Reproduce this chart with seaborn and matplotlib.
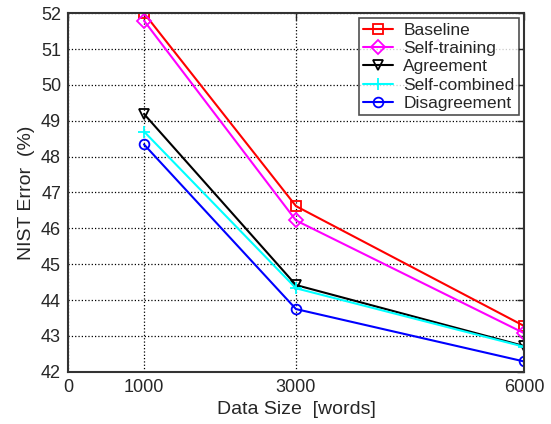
import numpy as np
import pandas as pd
import matplotlib
matplotlib.use('Agg')
import matplotlib.pyplot as plt
import seaborn as sns

sizes = [1000, 3000, 6000]
methods = ['Baseline', 'Self-training', 'Agreement', 'Self-combined', 'Disagreement']
baseline = [52.0, 46.62, 43.28]
self_training = [51.79, 46.22, 43.08]
agreement = [49.19, 44.42, 42.72]
self_combined = [48.70, 44.33, 42.70]
disagreement = [48.34, 43.75, 42.29]

colors = ['#ff0000', '#ff00ff', '#000000', '#00ffff', '#0000ff']
marker_list = ['s', 'D', 'v', '+', 'o']

sns.set_style('white')
plt.rcParams['font.family'] = ['Liberation Sans', 'DejaVu Sans']

fig = plt.figure(figsize=(5.51, 4.24), dpi=100)
ax = fig.add_axes([0.1234, 0.123, 0.8276, 0.846])

# one call per series, since seaborn won't mix filled and line-art markers
for name, vals, c, m in zip(methods,
                            [baseline, self_training, agreement, self_combined, disagreement],
                            colors, marker_list):
    sns.lineplot(x=sizes, y=vals, color=c, marker=m, label=name,
                 markersize=8 if m == '+' else 7, markerfacecolor='none',
                 markeredgecolor=c, markeredgewidth=1.3,
                 linewidth=1.5, ax=ax)

ax.set_xlim(0, 6000)
ax.set_ylim(42, 52)
ax.set_xticks([0, 1000, 3000, 6000])
ax.set_yticks(range(42, 53))
ax.tick_params(direction='in', length=5, labelsize=13, top=True, right=True,
               width=1, pad=5)
ax.grid(True, linestyle=':', color='black', linewidth=0.9)
for sp in ax.spines.values():
    sp.set_color('#333333')
    sp.set_linewidth(1.5)

ax.set_xlabel('Data Size  [words]', fontsize=14)
ax.set_ylabel('NIST Error  (%)', fontsize=14)

leg = ax.legend(loc='upper right', fontsize=12.5, frameon=True, fancybox=False,
                borderpad=0.25, labelspacing=0.18, handlelength=1.7,
                handletextpad=0.6, borderaxespad=0.3)
leg.get_frame().set_edgecolor('#222222')
leg.get_frame().set_linewidth(1.2)

fig.savefig('out.png', dpi=100)
